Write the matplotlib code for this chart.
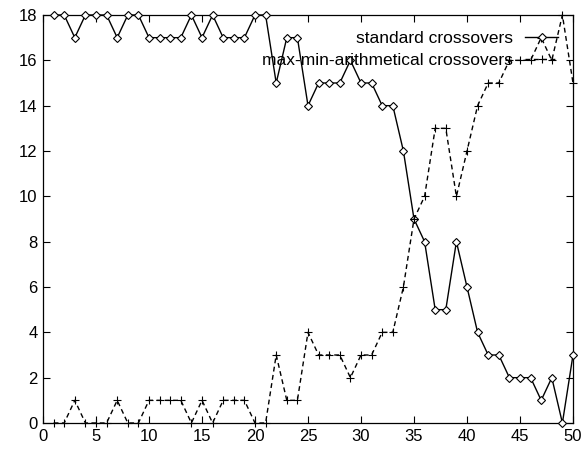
import numpy as np
import matplotlib
matplotlib.use("Agg")
import matplotlib.pyplot as plt

# generation index
generations = list(range(1, 51))

# number of individuals produced by each crossover type
standard = [18, 18, 17, 18, 18, 18, 17, 18, 18, 17,
            17, 17, 17, 18, 17, 18, 17, 17, 17, 18,
            18, 15, 17, 17, 14, 15, 15, 15, 16, 15,
            15, 14, 14, 12, 9, 8, 5, 5, 8, 6,
            4, 3, 3, 2, 2, 2, 1, 2, 0, 3]
max_min = [0, 0, 1, 0, 0, 0, 1, 0, 0, 1,
           1, 1, 1, 0, 1, 0, 1, 1, 1, 0,
           0, 3, 1, 1, 4, 3, 3, 3, 2, 3,
           3, 4, 4, 6, 9, 10, 13, 13, 10, 12,
           14, 15, 15, 16, 16, 16, 17, 16, 18, 15]

x_ticks = list(range(0, 51, 5))
y_ticks = list(range(0, 19, 2))

plt.rcParams["font.family"] = ["Liberation Sans", "DejaVu Sans"]

fig = plt.figure(figsize=(5.84, 4.53), dpi=100)
ax = fig.add_axes([43 / 584, 1 - 423 / 453, 530 / 584, 408 / 453])

ax.plot(generations, standard, color="black", linewidth=1.0, marker="D",
        markersize=3.6, markerfacecolor="white", markeredgecolor="black",
        markeredgewidth=0.8, clip_on=False, zorder=3, label="standard crossovers")
ax.plot(generations, max_min, color="black", linewidth=1.0, linestyle=(0, (3.5, 2.5)),
        marker="+", markersize=5.5, markeredgewidth=0.8, clip_on=False, zorder=3,
        label="max-min-arithmetical crossovers")

ax.set_xlim(0, 50)
ax.set_ylim(0, 18)
ax.set_xticks(x_ticks)
ax.set_yticks(y_ticks)
ax.tick_params(direction="in", length=5, width=0.8, top=True, right=True,
               labelsize=12, pad=4)
for sp in ax.spines.values():
    sp.set_linewidth(0.9)

leg = ax.legend(loc="upper right", bbox_to_anchor=(0.972, 0.96), frameon=False,
                markerfirst=False, fontsize=12.5, handlelength=1.9,
                handletextpad=0.7, labelspacing=0.35, borderpad=0, borderaxespad=0)

fig.savefig("out.png", dpi=100)
